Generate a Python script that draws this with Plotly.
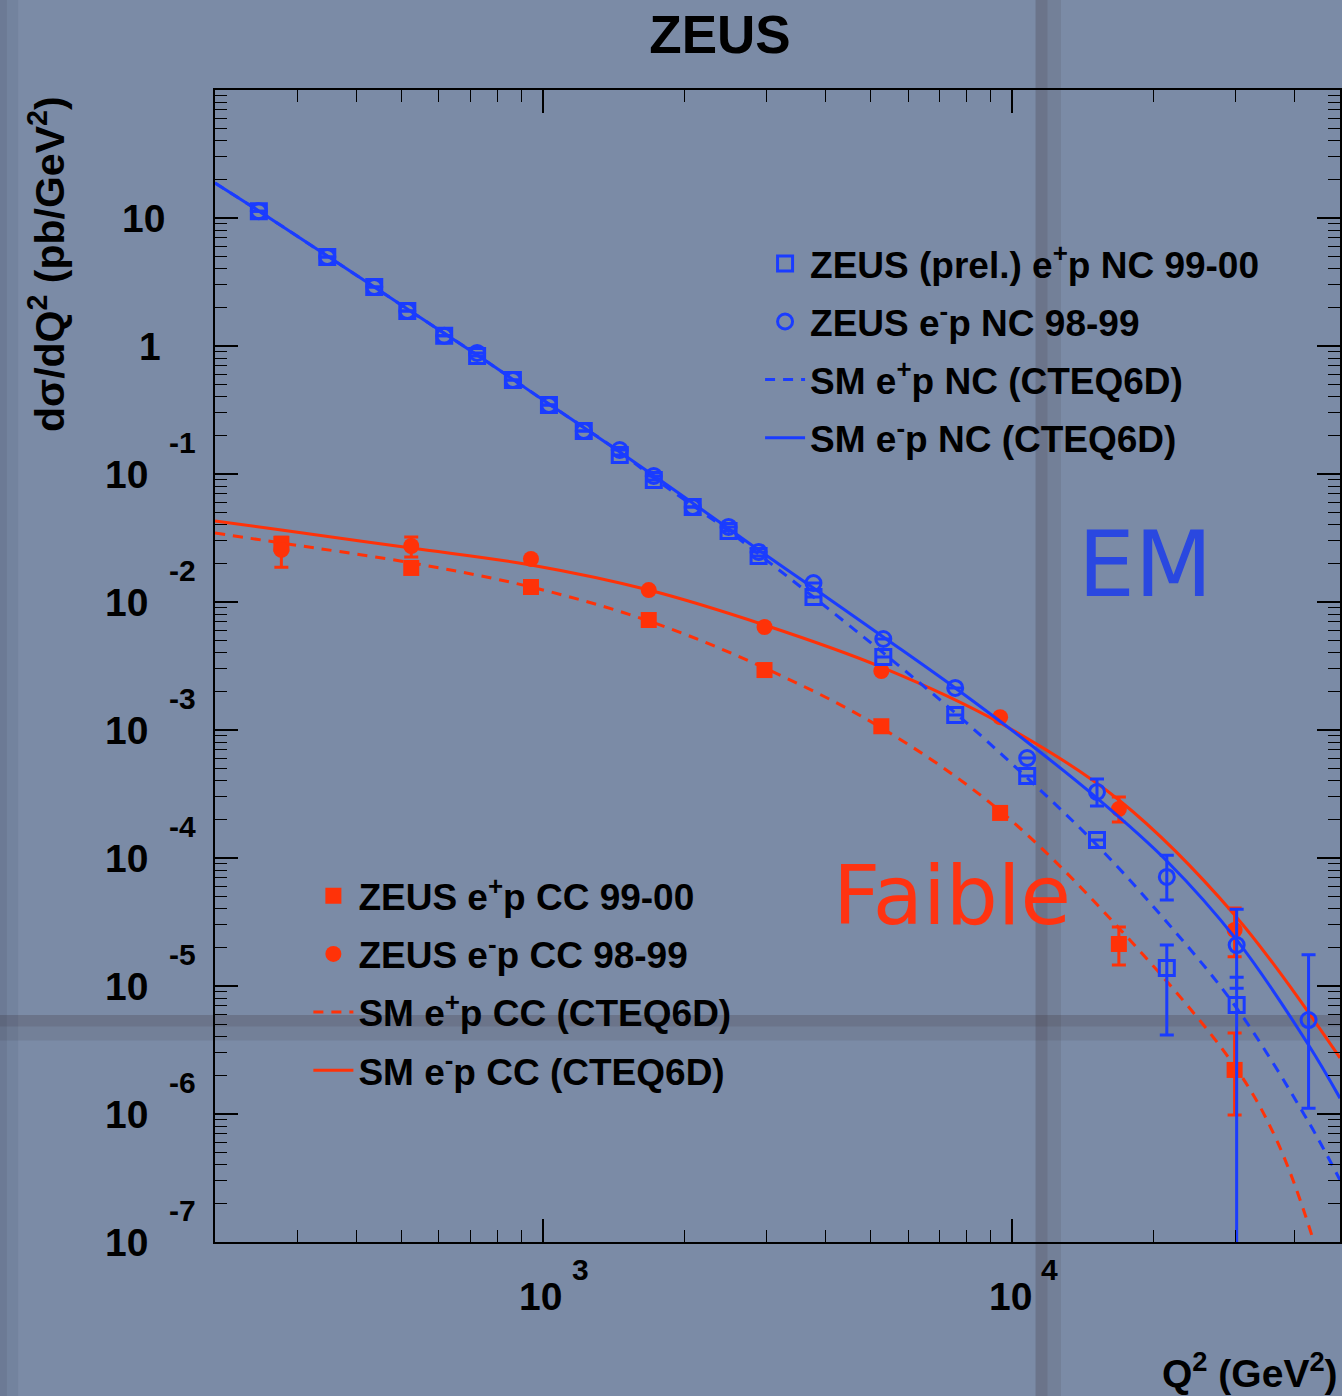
import math
import plotly.graph_objects as go

# ---------------- data ----------------
# Neutral current (NC) measurements
nc_q2 = [248, 347, 437, 514, 616, 724, 863, 1030, 1222, 1458, 1723, 2086, 2487,
         2882, 3773, 5315, 7565, 10770, 15170, 21370, 30110]
nc_ep_y = [11.3, 4.95, 2.89, 1.88, 1.20, 0.835, 0.542, 0.346, 0.217, 0.1407, 0.0898,
           0.0552, 0.0359, 0.0229, 0.01094, 3.72e-3, 1.31e-3, 4.37e-4, 1.38e-4,
           1.38e-5, 7.1e-6]
nc_ep_err_plus = [0] * 19 + [7.1e-6, 4.6e-6]
nc_ep_err_minus = [0] * 19 + [9.66e-6, 7.1e-6]

nc_em_q2 = [248, 347, 437, 514, 616, 724, 863, 1030, 1222, 1458, 1723, 2086, 2487,
            2882, 3773, 5315, 7565, 10770, 15170, 21370, 30110, 42850]
nc_em_y = [11.3, 4.95, 2.89, 1.88, 1.20, 0.882, 0.542, 0.346, 0.217, 0.154, 0.0965,
           0.0552, 0.0386, 0.0246, 0.01406, 5.14e-3, 2.13e-3, 6.04e-4, 3.28e-4,
           7.11e-5, 2.09e-5, 5.42e-6]
nc_em_err_plus = [0] * 18 + [8.6e-5, 3.4e-5, 1.89e-5, 1.21e-5]
nc_em_err_minus = [0] * 18 + [7.3e-5, 2.42e-5, 1.13e-5, 4.31e-6]

# Charged current (CC) measurements
cc_q2 = [277, 524, 943, 1681, 2967, 5264, 9430, 16890, 29810]
cc_ep_y = [0.0285, 0.01845, 0.0131, 7.23e-3, 2.94e-3, 1.07e-3, 2.25e-4, 2.13e-5, 2.21e-6]
cc_ep_err_plus = [0.0035, 0, 0, 0, 0, 0, 0, 7.6e-6, 2.09e-6]
cc_ep_err_minus = [0.0098, 0, 0, 0, 0, 0, 0, 6.7e-6, 1.23e-6]
cc_em_y = [0.0255, 0.0274, 0.0217, 0.0124, 6.38e-3, 2.89e-3, 1.26e-3, 2.41e-4, 2.74e-5]
cc_em_err_plus = [0, 0.0048, 0, 0, 0, 0, 0, 5.9e-5, 1.33e-5]
cc_em_err_minus = [0, 0.0049, 0, 0, 0, 0, 0, 5.0e-5, 1.05e-5]

# Standard Model predictions (CTEQ6D)
sm_nc_em_q2 = [200, 248, 347, 514, 724, 1030, 1458, 2086, 2882, 3773, 5315, 7565,
               10770, 15170, 21370, 30110, 42850, 50000]
sm_nc_em_y = [18.77, 11.34, 5.05, 1.945, 0.850, 0.352, 0.1486, 0.0593, 0.02548, 0.01287,
              5.33e-3, 2.13e-3, 8.06e-4, 2.94e-4, 9.48e-5, 2.29e-5, 3.46e-6, 1.33e-6]
sm_nc_ep_q2 = [200, 248, 347, 514, 724, 1030, 1458, 1723, 2487, 2882, 3773, 5315,
               7565, 10770, 15170, 21370, 30110, 42850, 50000]
sm_nc_ep_y = [18.77, 11.34, 5.05, 1.945, 0.850, 0.352, 0.1486, 0.0931, 0.0359, 0.0237,
              0.01094, 4.0e-3, 1.36e-3, 4.22e-4, 1.26e-4, 3.16e-5, 6.73e-6, 8.66e-7,
              3.05e-7]
sm_cc_em_q2 = [200, 277, 524, 943, 1681, 2967, 5264, 9430, 16890, 29810, 50000]
sm_cc_em_y = [0.0430, 0.0365, 0.0264, 0.01946, 0.0124, 6.61e-3, 3.10e-3, 1.135e-3,
              2.84e-4, 3.59e-5, 2.74e-6]
sm_cc_ep_q2 = [200, 277, 524, 943, 1681, 2967, 5264, 9430, 16890, 29810, 36630, 43920,
               46770]
sm_cc_ep_y = [0.0346, 0.0289, 0.0202, 0.0131, 7.11e-3, 3.05e-3, 1.04e-3, 2.33e-4,
              2.84e-5, 2.37e-6, 6.26e-7, 1.02e-7, 4.2e-8]

y_exponents = [-7, -6, -5, -4, -3, -2, -1, 0, 1]
x_exponents = [3, 4]

# ---------------- style ----------------
BLUE = "#1a3cff"
RED = "#ff3208"
BG = "#7b8ba6"
FONT = "Liberation Sans, Arial, sans-serif"

fig = go.Figure()

# CC (red)
fig.add_trace(go.Scatter(x=sm_cc_ep_q2, y=sm_cc_ep_y, mode="lines", line_shape="spline",
                         line=dict(color=RED, width=3, dash="10px,8px"),
                         name="<b>SM e<sup>+</sup>p CC (CTEQ6D)</b>", legend="legend2",
                         legendgroup="c3", legendrank=3))
fig.add_trace(go.Scatter(x=sm_cc_em_q2, y=sm_cc_em_y, mode="lines", line_shape="spline",
                         line=dict(color=RED, width=3),
                         name="<b>SM e<sup>-</sup>p CC (CTEQ6D)</b>", legend="legend2",
                         legendgroup="c4", legendrank=4))
fig.add_trace(go.Scatter(x=cc_q2, y=cc_ep_y, mode="markers",
                         marker=dict(symbol="square", size=16, color=RED),
                         error_y=dict(type="data", array=cc_ep_err_plus, arrayminus=cc_ep_err_minus,
                                      color=RED, thickness=3, width=7),
                         name="<b>ZEUS e<sup>+</sup>p CC 99-00</b>", legend="legend2",
                         legendgroup="c1", legendrank=1))
fig.add_trace(go.Scatter(x=cc_q2, y=cc_em_y, mode="markers",
                         marker=dict(symbol="circle", size=16, color=RED),
                         error_y=dict(type="data", array=cc_em_err_plus, arrayminus=cc_em_err_minus,
                                      color=RED, thickness=3, width=7),
                         name="<b>ZEUS e<sup>-</sup>p CC 98-99</b>", legend="legend2",
                         legendgroup="c2", legendrank=2))

# NC (blue)
fig.add_trace(go.Scatter(x=sm_nc_ep_q2, y=sm_nc_ep_y, mode="lines", line_shape="spline",
                         line=dict(color=BLUE, width=3, dash="10px,8px"),
                         name="<b>SM e<sup>+</sup>p NC (CTEQ6D)</b>", legend="legend",
                         legendgroup="n3", legendrank=3))
fig.add_trace(go.Scatter(x=sm_nc_em_q2, y=sm_nc_em_y, mode="lines", line_shape="spline",
                         line=dict(color=BLUE, width=3),
                         name="<b>SM e<sup>-</sup>p NC (CTEQ6D)</b>", legend="legend",
                         legendgroup="n4", legendrank=4))
fig.add_trace(go.Scatter(x=nc_q2, y=nc_ep_y, mode="markers",
                         marker=dict(symbol="square-open", size=15, color=BLUE,
                                     line=dict(width=3, color=BLUE)),
                         error_y=dict(type="data", array=nc_ep_err_plus, arrayminus=nc_ep_err_minus,
                                      color=BLUE, thickness=3, width=7),
                         name="<b>ZEUS (prel.) e<sup>+</sup>p NC 99-00</b>", legend="legend",
                         legendgroup="n1", legendrank=1))
fig.add_trace(go.Scatter(x=nc_em_q2, y=nc_em_y, mode="markers",
                         marker=dict(symbol="circle-open", size=15, color=BLUE,
                                     line=dict(width=3, color=BLUE)),
                         error_y=dict(type="data", array=nc_em_err_plus, arrayminus=nc_em_err_minus,
                                      color=BLUE, thickness=3, width=7),
                         name="<b>ZEUS e<sup>-</sup>p NC 98-99</b>", legend="legend",
                         legendgroup="n2", legendrank=2))

axis_common = dict(type="log", showgrid=False, zeroline=False, showline=True,
                   linecolor="black", linewidth=2, mirror="allticks",
                   ticks="inside", ticklen=23, tickwidth=1.5, tickcolor="black",
                   dtick=1, showticklabels=False,
                   minor=dict(ticks="inside", ticklen=12, tickwidth=1.2,
                              tickcolor="black", dtick="D1", showgrid=False))

fig.update_xaxes(range=[math.log10(200), math.log10(50000)], **axis_common)
fig.update_yaxes(range=[-7, 2], **axis_common)

annotations = []
lab_font = dict(family=FONT, size=39, color="black", weight="bold")
exp_font = dict(family=FONT, size=30, color="black", weight="bold")
for n in y_exponents:
    if n == 1:
        annotations.append(dict(text="10", x=0, xref="paper", y=n, yref="y",
                                xanchor="right", yanchor="middle", xshift=-48,
                                showarrow=False, font=lab_font))
    elif n == 0:
        annotations.append(dict(text="1", x=0, xref="paper", y=n, yref="y",
                                xanchor="right", yanchor="middle", xshift=-52,
                                showarrow=False, font=lab_font))
    else:
        annotations.append(dict(text="10", x=0, xref="paper", y=n, yref="y",
                                xanchor="right", yanchor="middle", xshift=-65,
                                showarrow=False, font=lab_font))
        annotations.append(dict(text=str(n), x=0, xref="paper", y=n, yref="y",
                                xanchor="left", yanchor="middle", xshift=-48, yshift=32,
                                showarrow=False, font=exp_font))
for n in x_exponents:
    annotations.append(dict(text="10", x=n, xref="x", y=0, yref="paper",
                            xanchor="center", yanchor="top", xshift=-2, yshift=-31,
                            showarrow=False, font=lab_font))
    annotations.append(dict(text=str(n), x=n, xref="x", y=0, yref="paper",
                            xanchor="left", yanchor="top", xshift=27, yshift=-9,
                            showarrow=False, font=exp_font))

# axis titles
annotations.append(dict(text="dσ/dQ<sup>2</sup> (pb/GeV<sup>2</sup>)", x=0, xref="paper",
                        y=0.849, yref="paper", textangle=-90, xanchor="center",
                        yanchor="middle", xshift=-168, showarrow=False,
                        font=dict(family=FONT, size=41, color="black", weight="bold")))
annotations.append(dict(text="Q<sup>2</sup> (GeV<sup>2</sup>)", x=1, xref="paper",
                        y=0, yref="paper", xanchor="right", yanchor="middle",
                        yshift=-128, showarrow=False,
                        font=dict(family=FONT, size=39, color="black", weight="bold")))
# handwritten labels
annotations.append(dict(text="EM", x=0.827, xref="paper", y=0.588, yref="paper",
                        xanchor="center", yanchor="middle", showarrow=False,
                        font=dict(family="DejaVu Sans", size=90, color="#2a48e0")))
annotations.append(dict(text="Faible", x=0.655, xref="paper", y=0.301, yref="paper",
                        xanchor="center", yanchor="middle", showarrow=False,
                        font=dict(family="DejaVu Sans", size=82, color="#ff3311")))

shapes = [
    # texture seams of the background image
    dict(type="rect", xref="paper", yref="paper", x0=0.7294, x1=0.740, y0=-0.14, y1=1.08,
         fillcolor="rgba(60,52,58,0.26)", line=dict(width=0), layer="below"),
    dict(type="rect", xref="paper", yref="paper", x0=0.740, x1=0.752, y0=-0.14, y1=1.08,
         fillcolor="rgba(60,52,58,0.12)", line=dict(width=0), layer="below"),
    dict(type="rect", xref="paper", yref="paper", x0=-0.2, x1=1.0, y0=0.187, y1=0.197,
         fillcolor="rgba(60,52,58,0.26)", line=dict(width=0), layer="below"),
    dict(type="rect", xref="paper", yref="paper", x0=-0.2, x1=1.0, y0=0.175, y1=0.187,
         fillcolor="rgba(60,52,58,0.12)", line=dict(width=0), layer="below"),
    dict(type="rect", xref="paper", yref="paper", x0=-0.2, x1=-0.185, y0=-0.14, y1=1.08,
         fillcolor="rgba(30,40,60,0.16)", line=dict(width=0), layer="below"),
    dict(type="rect", xref="paper", yref="paper", x0=-0.185, x1=-0.175, y0=-0.14, y1=1.08,
         fillcolor="rgba(30,40,60,0.08)", line=dict(width=0), layer="below"),
]

leg_font = dict(family=FONT, size=37, color="black", weight="bold")
fig.update_layout(
    width=1342, height=1396,
    margin=dict(l=215, r=0, t=90, b=154),
    paper_bgcolor=BG, plot_bgcolor="rgba(0,0,0,0)",
    title=dict(text="<b>ZEUS</b>", x=0.5365, xref="container", xanchor="center",
               y=0.975, yref="container", yanchor="middle",
               font=dict(family=FONT, size=53, color="black")),
    showlegend=True,
    legend=dict(x=0.4845, y=0.876, xanchor="left", yanchor="top", bgcolor="rgba(0,0,0,0)",
                font=leg_font, tracegroupgap=7, itemwidth=40, traceorder="grouped"),
    legend2=dict(x=0.083, y=0.327, xanchor="left", yanchor="top", bgcolor="rgba(0,0,0,0)",
                 font=leg_font, tracegroupgap=7, itemwidth=40, traceorder="grouped"),
    annotations=annotations,
    shapes=shapes,
)

fig.write_html("out.html", config={"displayModeBar": False},
               post_script="document.body.style.margin='0px';document.body.style.overflow='hidden';")
